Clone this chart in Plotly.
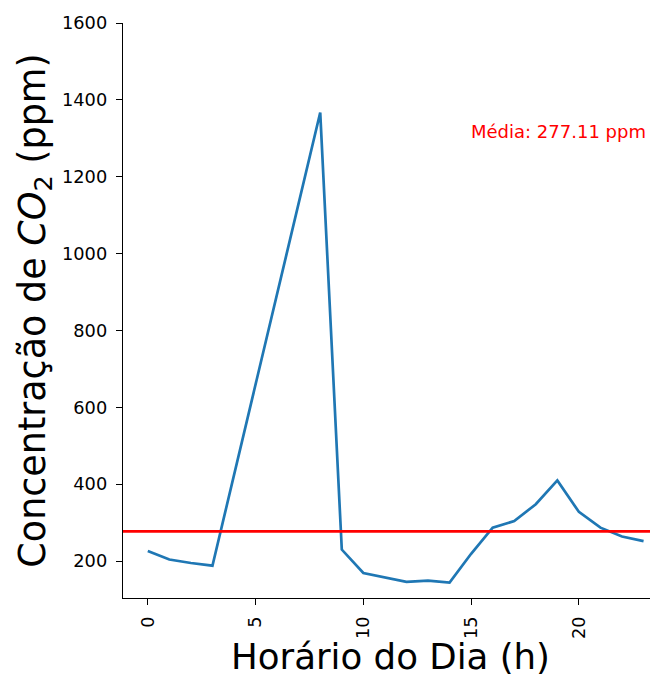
import plotly.graph_objects as go

hours = [0, 1, 2, 3, 8, 9, 10, 11, 12, 13, 14, 15, 16, 17, 18, 19, 20, 21, 22, 23]
co2 = [226, 204, 195, 188, 1367, 230, 169, 158, 146, 149, 144, 219, 287, 304, 348, 410, 328, 287, 264, 252]
mean_value = 277.11
x_ticks = [0, 5, 10, 15, 20]
y_ticks = [200, 400, 600, 800, 1000, 1200, 1400, 1600]

fig = go.Figure()
fig.add_trace(go.Scatter(x=hours, y=co2, mode="lines",
                         line=dict(color="#1f77b4", width=2.7), showlegend=False))
fig.add_shape(type="line", xref="paper", x0=0, x1=1, yref="y", y0=mean_value, y1=mean_value,
              line=dict(color="red", width=2.7))
fig.add_annotation(x=14.9, y=1318, xref="x", yref="y", text=f"Média: {mean_value:.2f} ppm",
                   showarrow=False, xanchor="left", yanchor="middle",
                   font=dict(color="red", size=18, family="DejaVu Sans"))

fig.update_layout(
    width=650, height=669,
    margin=dict(l=115, r=0, t=15, b=79, autoexpand=False),
    paper_bgcolor="white", plot_bgcolor="white",
    font=dict(family="DejaVu Sans", color="black"),
    xaxis=dict(range=[-1.15, 23.67], tickvals=x_ticks, tickangle=-90,
               showgrid=False, zeroline=False, showline=True, linecolor="black", linewidth=1.4,
               ticks="outside", ticklen=6, tickwidth=1.4, tickcolor="black",
               tickfont=dict(size=17.8, color="black"), ticklabelstandoff=4,
               automargin=False,
               title=dict(text="Horário do Dia (h)", font=dict(size=35.6), standoff=7)),
    yaxis=dict(range=[104, 1600], tickvals=y_ticks,
               showgrid=False, zeroline=False, showline=True, linecolor="black", linewidth=1.4,
               ticks="outside", ticklen=6, tickwidth=1.4, tickcolor="black",
               tickfont=dict(size=17.8, color="black"), ticklabelstandoff=5,
               automargin=False,
               title=dict(text="Concentração de <i>CO</i><sub>2</sub> (ppm)", font=dict(size=36.5), standoff=5)),
)
fig.write_html("out.html")
